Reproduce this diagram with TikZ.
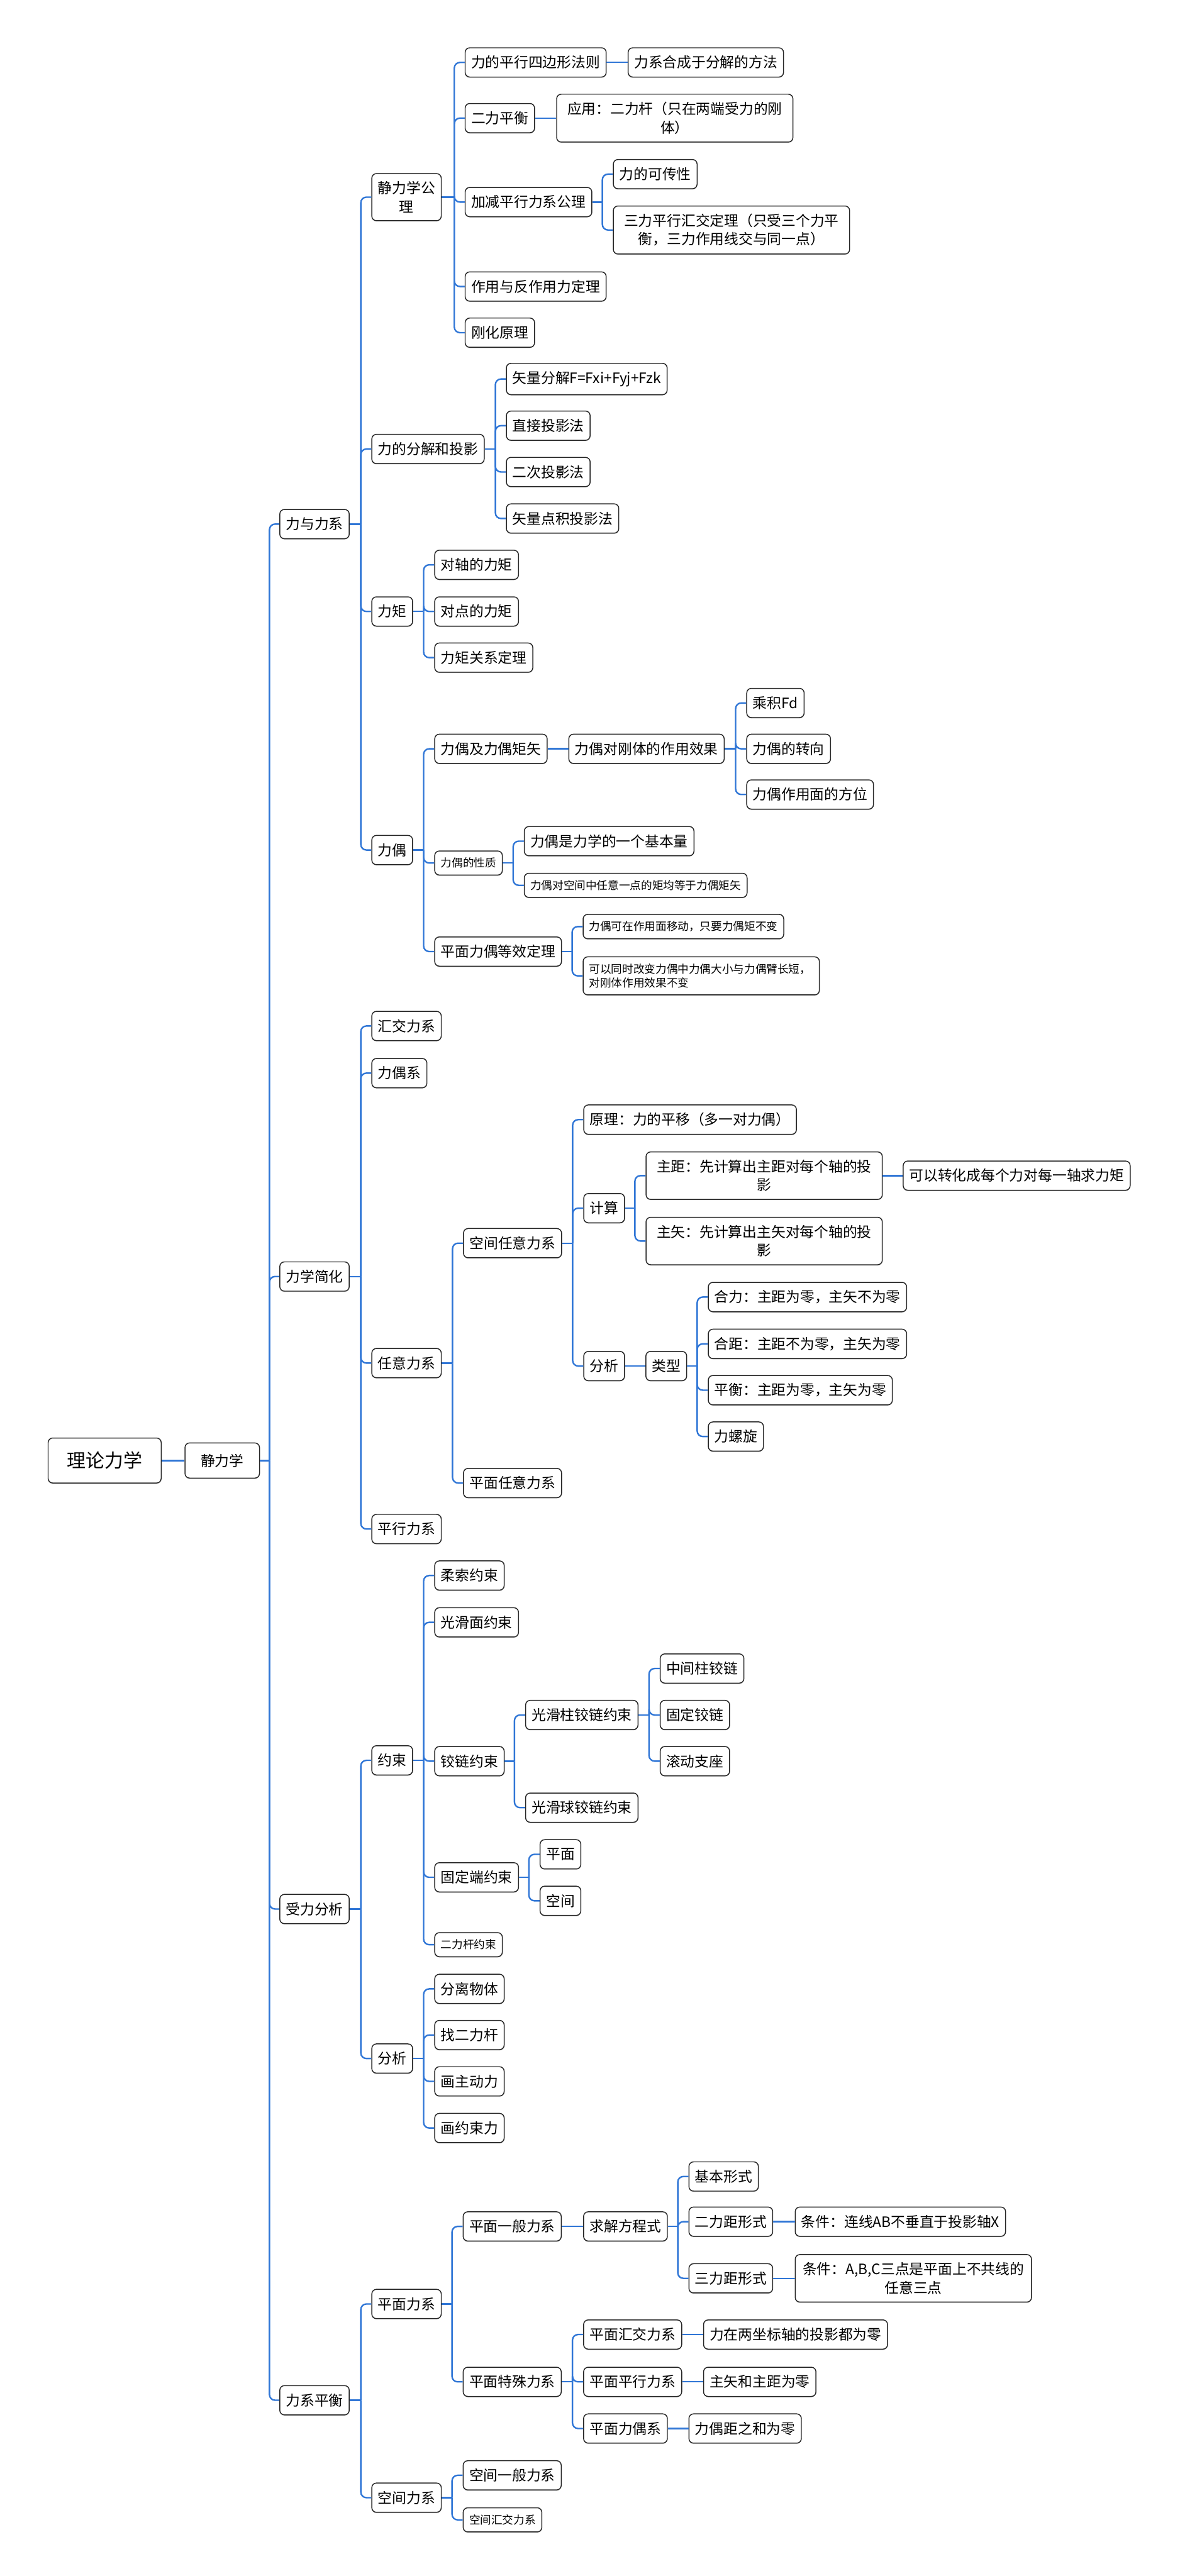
\documentclass[tikz,border=0pt]{standalone}
\usepackage{fontspec}
\setmainfont{Noto Sans CJK SC}
\usetikzlibrary{shadows}
\definecolor{lineblue}{RGB}{48,118,214}
\tikzset{
  box/.style={draw=black!85, line width=0.8pt, rounded corners=0.14cm, fill=white,
    anchor=west, align=center, inner xsep=0.185cm, inner ysep=0.24cm,
    minimum height=0.89cm, font=\fontsize{12.4}{16}\selectfont,
    drop shadow={shadow xshift=0pt, shadow yshift=-0.7pt, fill=black!45}},
  small/.style={box, inner ysep=0.21cm, minimum height=0.73cm, font=\fontsize{9.6}{12}\selectfont},
  rootbox/.style={box, inner xsep=0.575cm, minimum height=1.37cm, font=\fontsize{16.3}{20}\selectfont},
  firstbox/.style={box, inner xsep=0.48cm, minimum height=1.07cm},
  wrapbox/.style={text width=6.82cm},
  link/.style={draw=lineblue, line width=1.3pt, rounded corners=0.17cm},
}
% parent, x of the bus, children
\newcommand\branch[3]{%
  \coordinate (bus) at (#2,0);
  \draw[link] (#1.east) -- (#1.east -| bus);
  \foreach \kid in {#3} \draw[link] (#1.east -| bus) |- (\kid.west);}
\begin{document}
\begin{tikzpicture}[x=0.05cm, y=-0.05cm]
  \useasboundingbox (0,0) rectangle (718,1568);
  \def\colA{170}
  \def\colB{226}

  % root
  \node[rootbox] (root) at (29,889) {理论力学};
  \node[firstbox] (jlx) at (112.3,889) {静力学};
  \draw[link, line width=1.7pt] (root.east) -- (jlx.west);

  % first level
  \node[box] (lyl) at (\colA,319) {力与力系};
  \node[box] (ljh) at (\colA,777) {力学简化};
  \node[box] (slf) at (\colA,1162) {受力分析};
  \node[box] (lph) at (\colA,1461) {力系平衡};
  \branch{jlx}{164}{lyl,ljh,slf,lph}

  % 力与力系
  \node[box] (gl) at (\colB,120) {静力学公\\理};
  \node[box] (fj) at (\colB,273.3) {力的分解和投影};
  \node[box] (lj) at (\colB,372.2) {力矩};
  \node[box] (lo) at (\colB,517.4) {力偶};
  \branch{lyl}{219.6}{gl,fj,lj,lo}

  \node[box] (gl1) at (282.8,38) {力的平行四边形法则};
  \node[box] (gl2) at (282.8,71.9) {二力平衡};
  \node[box] (gl3) at (282.8,123) {加减平行力系公理};
  \node[box] (gl4) at (282.8,174.4) {作用与反作用力定理};
  \node[box] (gl5) at (282.8,202.5) {刚化原理};
  \branch{gl}{276.5}{gl1,gl2,gl3,gl4,gl5}
  \node[box] (gl1a) at (382,38) {力系合成于分解的方法};
  \draw[link] (gl1.east) -- (gl1a.west);
  \node[box, wrapbox] (gl2a) at (338.5,71.9) {应用：二力杆（只在两端受力的刚\\体）};
  \draw[link] (gl2.east) -- (gl2a.west);
  \node[box] (gl3a) at (373,106) {力的可传性};
  \node[box, wrapbox] (gl3b) at (373,140) {三力平行汇交定理（只受三个力平\\衡，三力作用线交与同一点）};
  \branch{gl3}{366.6}{gl3a,gl3b}

  \node[box] (fj1) at (307.9,230.7) {矢量分解F=Fxi+Fyj+Fzk};
  \node[box] (fj2) at (307.9,259.1) {直接投影法};
  \node[box] (fj3) at (307.9,287.3) {二次投影法};
  \node[box] (fj4) at (307.9,315.6) {矢量点积投影法};
  \branch{fj}{301.5}{fj1,fj2,fj3,fj4}

  \node[box] (lj1) at (264.3,343.8) {对轴的力矩};
  \node[box] (lj2) at (264.3,372.2) {对点的力矩};
  \node[box] (lj3) at (264.3,400.3) {力矩关系定理};
  \branch{lj}{257.8}{lj1,lj2,lj3}

  \node[box] (lo1) at (264.3,455.8) {力偶及力偶矩矢};
  \node[small] (lo2) at (264.3,525.3) {力偶的性质};
  \node[box] (lo3) at (264.3,579.2) {平面力偶等效定理};
  \branch{lo}{257.8}{lo1,lo2,lo3}
  \node[box] (lo1a) at (345.9,455.8) {力偶对刚体的作用效果};
  \draw[link] (lo1.east) -- (lo1a.west);
  \node[box] (cj) at (454.2,427.9) {乘积Fd};
  \node[box] (zx) at (454.2,455.8) {力偶的转向};
  \node[box] (fw) at (454.2,483.6) {力偶作用面的方位};
  \branch{lo1a}{447.7}{cj,zx,fw}
  \node[box] (lo2a) at (318.8,512) {力偶是力学的一个基本量};
  \node[small] (lo2b) at (318.8,538.9) {力偶对空间中任意一点的矩均等于力偶矩矢};
  \branch{lo2}{312.3}{lo2a,lo2b}
  \node[small] (lo3a) at (354.6,564) {力偶可在作用面移动，只要力偶矩不变};
  \node[small, wrapbox, align=left] (lo3b) at (354.6,594) {可以同时改变力偶中力偶大小与力偶臂长短，\\对刚体作用效果不变};
  \branch{lo3}{348.2}{lo3a,lo3b}

  % 力学简化
  \node[box] (hj) at (\colB,624.5) {汇交力系};
  \node[box] (lox) at (\colB,653.2) {力偶系};
  \node[box] (ry) at (\colB,829.7) {任意力系};
  \node[box] (px) at (\colB,930.7) {平行力系};
  \branch{ljh}{219.6}{hj,lox,ry,px}
  \node[box] (kj) at (281.8,756.7) {空间任意力系};
  \node[box] (pm) at (281.8,902.7) {平面任意力系};
  \branch{ry}{275.4}{kj,pm}
  \node[box] (yl) at (355,681.5) {原理：力的平移（多一对力偶）};
  \node[box] (js) at (355,735.4) {计算};
  \node[box] (fx) at (355,831.5) {分析};
  \branch{kj}{348.5}{yl,js,fx}
  \node[box, wrapbox] (zj) at (392.9,715.6) {主距：先计算出主距对每个轴的投\\影};
  \node[box, wrapbox] (zs) at (392.9,755.4) {主矢：先计算出主矢对每个轴的投\\影};
  \branch{js}{386.4}{zj,zs}
  \node[box] (zja) at (549.4,715.6) {可以转化成每个力对每一轴求力矩};
  \draw[link] (zj.east) -- (zja.west);
  \node[box] (lx) at (392.8,831.5) {类型};
  \draw[link] (fx.east) -- (lx.west);
  \node[box] (hl) at (430.8,789.5) {合力：主距为零，主矢不为零};
  \node[box] (hjj) at (430.8,818) {合距：主距不为零，主矢为零};
  \node[box] (ph) at (430.8,846.2) {平衡：主距为零，主矢为零};
  \node[box] (llx) at (430.8,874.4) {力螺旋};
  \branch{lx}{424.3}{hl,hjj,ph,llx}

  % 受力分析
  \node[box] (ys) at (\colB,1071.5) {约束};
  \node[box] (fx2) at (\colB,1253) {分析};
  \branch{slf}{219.6}{ys,fx2}
  \node[box] (rs) at (264.3,959) {柔索约束};
  \node[box] (ghm) at (264.3,987.5) {光滑面约束};
  \node[box] (jl) at (264.3,1072) {铰链约束};
  \node[box] (gdd) at (264.3,1142.7) {固定端约束};
  \node[small] (elg) at (264.3,1183.7) {二力杆约束};
  \branch{ys}{257.8}{rs,ghm,jl,gdd,elg}
  \node[box] (jz) at (319.6,1043.9) {光滑柱铰链约束};
  \node[box] (jq) at (319.6,1100.3) {光滑球铰链约束};
  \branch{jl}{313.1}{jz,jq}
  \node[box] (zjz) at (401.5,1015.6) {中间柱铰链};
  \node[box] (gdj) at (401.5,1043.9) {固定铰链};
  \node[box] (gdzz) at (401.5,1072) {滚动支座};
  \branch{jz}{395}{zjz,gdj,gdzz}
  \node[box] (pm2) at (328.4,1128.7) {平面};
  \node[box] (kj2) at (328.4,1157) {空间};
  \branch{gdd}{321.9}{pm2,kj2}
  \node[box] (a1) at (264.3,1210.6) {分离物体};
  \node[box] (a2) at (264.3,1238.7) {找二力杆};
  \node[box] (a3) at (264.3,1266.9) {画主动力};
  \node[box] (a4) at (264.3,1295.3) {画约束力};
  \branch{fx2}{257.8}{a1,a2,a3,a4}

  % 力系平衡
  \node[box] (pml) at (\colB,1402.4) {平面力系};
  \node[box] (kjl) at (\colB,1520.3) {空间力系};
  \branch{lph}{219.6}{pml,kjl}
  \node[box] (pmyb) at (281.6,1355.2) {平面一般力系};
  \node[box] (pmts) at (281.6,1449.8) {平面特殊力系};
  \branch{pml}{275.1}{pmyb,pmts}
  \node[box] (qj) at (354.9,1355.2) {求解方程式};
  \draw[link] (pmyb.east) -- (qj.west);
  \node[box] (jb) at (419,1324.8) {基本形式};
  \node[box] (el) at (419,1352.3) {二力距形式};
  \node[box] (sl) at (419,1386.8) {三力距形式};
  \branch{qj}{412.5}{jb,el,sl}
  \node[box] (ela) at (483.7,1352.3) {条件：连线AB不垂直于投影轴X};
  \draw[link] (el.east) -- (ela.west);
  \node[box, wrapbox] (sla) at (483.7,1386.8) {条件：A,B,C三点是平面上不共线的\\任意三点};
  \draw[link] (sl.east) -- (sla.west);
  \node[box] (hj3) at (354.9,1421) {平面汇交力系};
  \node[box] (px3) at (354.9,1449.8) {平面平行力系};
  \node[box] (lo4) at (354.9,1478.2) {平面力偶系};
  \branch{pmts}{348.4}{hj3,px3,lo4}
  \node[box] (hj3a) at (427.9,1421) {力在两坐标轴的投影都为零};
  \draw[link] (hj3.east) -- (hj3a.west);
  \node[box] (px3a) at (427.9,1449.8) {主矢和主距为零};
  \draw[link] (px3.east) -- (px3a.west);
  \node[box] (lo4a) at (419,1478.2) {力偶距之和为零};
  \draw[link] (lo4.east) -- (lo4a.west);
  \node[box] (kjyb) at (281.6,1506.7) {空间一般力系};
  \node[small] (kjhj) at (281.6,1533.8) {空间汇交力系};
  \branch{kjl}{275.1}{kjyb,kjhj}
\end{tikzpicture}
\end{document}
